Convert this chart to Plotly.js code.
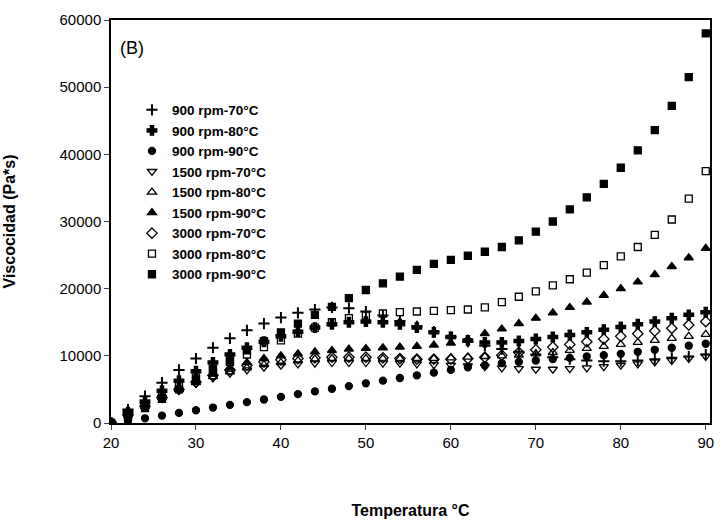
<!DOCTYPE html>
<html><head><meta charset="utf-8">
<script src="https://cdn.plot.ly/plotly-3.0.1.min.js"></script>
<style>body{margin:0}</style></head><body>
<div id="g" style="width:728px;height:532px"></div>
<script>
const temps = [20,22,24,26,28,30,32,34,36,38,40,42,44,46,48,50,52,54,56,58,60,62,64,66,68,70,72,74,76,78,80,82,84,86,88,90];
const names = ['900 rpm-70°C','900 rpm-80°C','900 rpm-90°C','1500 rpm-70°C','1500 rpm-80°C','1500 rpm-90°C','3000 rpm-70°C','3000 rpm-80°C','3000 rpm-90°C'];
const v900_70 = [0,2,4,6,7.9,9.6,11.2,12.6,13.8,14.8,15.7,16.4,16.9,17.2,17.1,16.6,16,15.2,14.4,13.6,12.8,12.1,11.5,11,10.6,10.2,9.8,9.5,9.3,9.2,9.2,9.3,9.5,9.7,9.9,10.2];
const v900_80 = [0,1.6,3.2,4.8,6.3,7.7,9,10.2,11.2,12.1,12.9,13.6,14.2,14.7,15,15.1,15,14.7,14.2,13.5,12.8,12.3,12,12,12.2,12.5,12.8,13.1,13.5,13.9,14.3,14.7,15.1,15.6,16.1,16.5];
const v900_90 = [0,0.3,0.7,1.1,1.5,1.9,2.3,2.7,3.1,3.5,3.9,4.3,4.7,5.1,5.5,5.9,6.3,6.7,7.1,7.5,7.9,8.3,8.6,8.9,9.1,9.3,9.5,9.7,9.9,10.1,10.3,10.6,10.9,11.2,11.5,11.8];
const v1500_70 = [0,1.3,2.6,3.8,4.9,5.9,6.7,7.4,7.9,8.3,8.6,8.8,8.9,9,9,9,8.9,8.9,8.8,8.7,8.6,8.5,8.4,8.2,8.1,8,8,8.1,8.2,8.4,8.6,8.8,9.1,9.3,9.6,9.9];
const v1500_80 = [0,1.3,2.6,3.9,5,6,6.9,7.6,8.2,8.7,9,9.3,9.5,9.6,9.6,9.6,9.6,9.6,9.6,9.6,9.7,9.8,9.9,10,10.1,10.3,10.5,10.8,11.1,11.4,11.7,12,12.3,12.6,12.9,13.2];
const v1500_90 = [0,1.2,2.5,3.8,5,6.2,7.3,8.2,9,9.6,10,10.3,10.6,10.8,11,11.1,11.2,11.3,11.4,11.6,11.9,12.5,13.3,14,14.8,15.6,16.4,17.2,18,19,20,21,22.1,23.3,24.6,26];
const v3000_70 = [0,1.2,2.5,3.8,5,6.1,7.1,7.9,8.6,9.1,9.4,9.6,9.7,9.8,9.8,9.8,9.7,9.6,9.5,9.5,9.5,9.6,9.8,10.1,10.5,10.9,11.3,11.7,12.1,12.5,12.9,13.3,13.7,14.1,14.6,15.1];
const v3000_80 = [0,1.2,2.6,4,5.5,6.8,8,9.1,10.2,11.3,12.3,13.3,14.2,15,15.6,16,16.3,16.5,16.6,16.7,16.8,16.9,17.2,18,18.8,19.6,20.5,21.4,22.4,23.5,24.8,26.2,28,30.3,33.4,37.5];
const v3000_90 = [0,1,2.2,3.6,5,6.5,8,9.3,10.8,12.2,13.5,14.8,16.1,17.3,18.6,19.8,20.8,21.8,22.8,23.7,24.3,24.9,25.5,26.2,27.2,28.5,30,31.8,33.6,35.6,38,40.6,43.6,47.2,51.5,58];
const series = [v900_70,v900_80,v900_90,v1500_70,v1500_80,v1500_90,v3000_70,v3000_80,v3000_90];
const syms = ['cross-thin','cross','circle','triangle-down-open','triangle-up-open','triangle-up','diamond-open','square-open','square'];
const sizes = [8,8,7,8,8,8,8,7,7];
const traces = series.map((s,i)=>({
  x: temps, y: s.map(v=>v*1000), name: names[i], type:'scatter', mode:'markers',
  marker:{symbol:syms[i], size:sizes[i], color:'black', line:{color:'black', width: syms[i]==='cross-thin'?2:1.3}}
}));
const F='Liberation Sans, Arial, sans-serif';
Plotly.newPlot('g', traces, {
  width:728, height:532, margin:{l:111,r:18,t:20,b:109},
  paper_bgcolor:'white', plot_bgcolor:'white', showlegend:true,
  font:{family:F, color:'black', size:14},
  xaxis:{range:[20,90.5], tickvals:[20,30,40,50,60,70,80,90], showgrid:false, zeroline:false,
    showline:true, mirror:true, linecolor:'black', linewidth:1.5, ticks:'outside', ticklen:5,
    tickfont:{size:15, family:F}, title:{text:'<b>Temperatura °C</b>', font:{size:16}, standoff:55}},
  yaxis:{range:[0,60000], dtick:10000, tickformat:'d', showgrid:false, zeroline:false,
    showline:true, mirror:true, linecolor:'black', linewidth:1.5, ticks:'outside', ticklen:5,
    tickfont:{size:15, family:F}, title:{text:'<b>Viscocidad (Pa*s)</b>', font:{size:16}, standoff:40}},
  legend:{x:0.035, y:0.815, xanchor:'left', yanchor:'top', bgcolor:'rgba(0,0,0,0)',
    font:{size:13.5, family:F, weight:'bold'}, itemwidth:30, tracegroupgap:0},
  annotations:[{text:'(B)', xref:'paper', yref:'paper', x:0.012, y:0.96, xanchor:'left', yanchor:'top', showarrow:false, font:{size:18, family:F}}]
}, {displayModeBar:false});
</script></body></html>
